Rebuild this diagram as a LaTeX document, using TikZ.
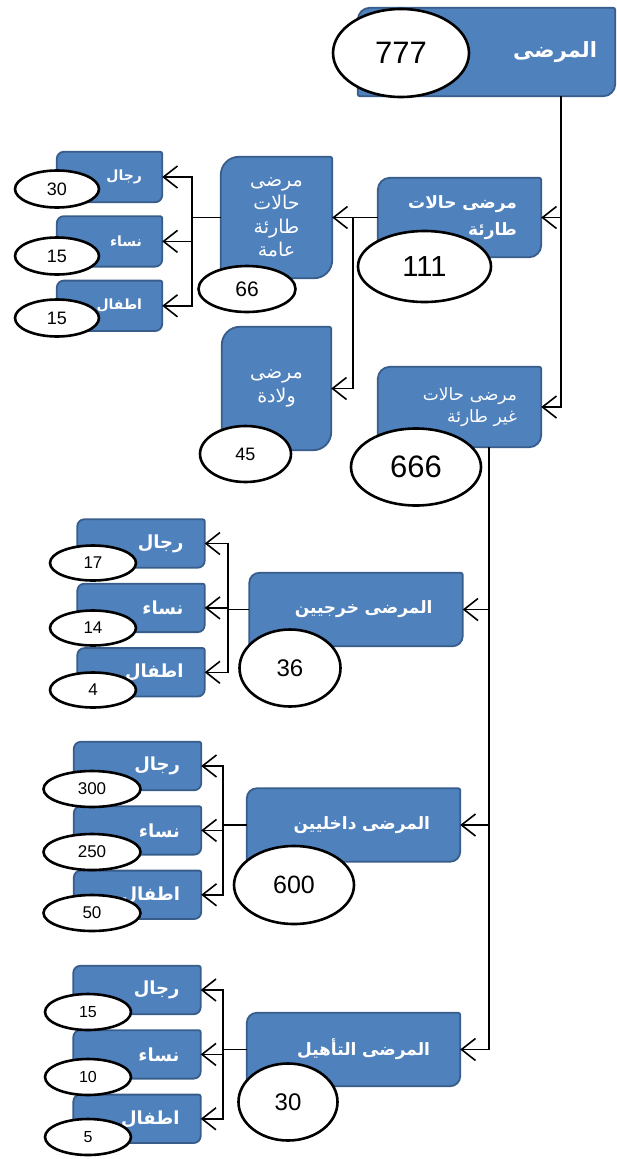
\documentclass[tikz,border=0pt]{standalone}
\usepackage{fontspec}
\setmainfont{Liberation Sans}
\newfontfamily\arabicfont[Script=Arabic]{DejaVu Sans}
\TeXXeTstate=1
\usepackage{tikz}
\usetikzlibrary{arrows.meta,positioning,shapes.geometric,backgrounds}
\definecolor{ptBlue}{HTML}{4F81BD}
\definecolor{ptEdge}{HTML}{385D8A}
\newcommand{\artx}[1]{\beginR #1\endR}
\newcommand{\fsz}[1]{\fontsize{#1}{#1}\selectfont}

\begin{document}
\begin{tikzpicture}[x=1pt, y=-1pt,
  box/.style={text=white, inner ysep=0pt, align=right},
  ttl/.style={box, font=\arabicfont\bfseries\fontsize{17}{27}\selectfont},
  plain/.style={box, align=center, font=\arabicfont\fontsize{19}{23.5}\selectfont},
  grp/.style={box, font=\arabicfont\bfseries\fsz{17}, minimum width=213pt, minimum height=73pt, text width=153pt, inner xsep=30pt},
  kid/.style={box, font=\arabicfont\bfseries\fsz{18}, minimum width=127pt, minimum height=48pt, text width=85pt, inner xsep=21pt},
  kidA/.style={box, font=\arabicfont\bfseries\fsz{14}, minimum width=105pt, minimum height=50pt, text width=65pt, inner xsep=20pt},
  num/.style={ellipse, draw, line width=2.6pt, fill=white, inner sep=0pt},
  boxline/.style={fill=ptBlue, draw=ptEdge, line width=1.8pt},
  link/.style={-{Straight Barb[length=14pt,width=22pt]}, line width=1.6pt},
  node distance=16pt,
]
  \useasboundingbox (0,0) rectangle (617,1159);

  % main boxes
  \node[box, font=\arabicfont\bfseries\fsz{21}, minimum height=88pt, text width=221pt, inner xsep=18pt] (root) at (486.5,52) {\artx{المرضى}};
  \node[ttl, minimum height=79pt, text width=115pt, inner xsep=24pt] (emg) at (459.5,217.5) {\artx{مرضى حالات}\\\artx{طارئة}};
  \node[plain, minimum height=121pt, text width=95pt, inner xsep=8pt] (gen) at (276.5,217.5) {\artx{مرضى}\\\artx{حالات}\\\artx{طارئة}\\\artx{عامة}};
  \node[plain, minimum height=123pt, text width=93pt, inner xsep=8pt] (birth) at (276.5,388.5) {\artx{مرضى}\\\artx{ولادة}};
  \node[box, font=\arabicfont\fontsize{17}{22}\selectfont, minimum height=80pt, text width=115pt, inner xsep=24pt] (nonemg) at (459.5,407) {\artx{مرضى حالات}\\\artx{غير طارئة}};
  \node[grp] (outp) at (356,609.5) {\artx{المرضى خرجيين}};
  \node[grp] (inp) at (353.5,825) {\artx{المرضى داخليين}};
  \node[grp] (rehab) at (353.5,1049.5) {\artx{المرضى التأهيل}};

  % small boxes
  \node[kidA] (men1) at (109.5,177) {\artx{رجال}};
  \node[kidA, below=14pt of men1] (women1) {\artx{نساء}};
  \node[kidA, below=14pt of women1] (kids1) {\artx{اطفال}};
  \node[kid] (men2) at (141,543.5) {\artx{رجال}};
  \node[kid, below=of men2] (women2) {\artx{نساء}};
  \node[kid, below=of women2] (kids2) {\artx{اطفال}};
  \node[kid] (men3) at (137.5,766) {\artx{رجال}};
  \node[kid, below=of men3] (women3) {\artx{نساء}};
  \node[kid, below=of women3] (kids3) {\artx{اطفال}};
  \node[kid] (men4) at (137,990) {\artx{رجال}};
  \node[kid, below=of men4] (women4) {\artx{نساء}};
  \node[kid, below=of women4] (kids4) {\artx{اطفال}};

  \begin{scope}[on background layer]
    \foreach \b/\r in {root/12pt, emg/12pt, gen/18pt, birth/18pt, nonemg/12pt, outp/10pt, inp/10pt, rehab/10pt,
      men1/7pt, women1/7pt, kids1/7pt, men2/7pt, women2/7pt, kids2/7pt,
      men3/7pt, women3/7pt, kids3/7pt, men4/7pt, women4/7pt, kids4/7pt}
      \draw[boxline] (\b.west) [rounded corners=\r] -- (\b.north west) [rounded corners=2pt] -- (\b.north east) [rounded corners=\r] -- (\b.south east) [rounded corners=2pt] -- (\b.south west) [sharp corners] -- cycle;
  \end{scope}

  % connectors
  \coordinate (trunkA) at (561,0);
  \coordinate (trunkB) at (489,0);
  \coordinate (splitB) at (353,0);
  \coordinate (j1) at (192,0);
  \coordinate (j2) at (228,0);
  \coordinate (j3) at (223,0);
  \coordinate (j4) at (223,0);
  \draw[link] (root.south -| trunkA) |- (emg.east);
  \draw[link] (root.south -| trunkA) |- (nonemg.east);
  \draw[link] (emg.west) -- (gen.east);
  \draw[link] (emg.west -| splitB) |- (birth.east);
  \foreach \g in {outp,inp,rehab}\draw[link] (nonemg.south -| trunkB) |- (\g.east);
  \foreach \p/\k in {gen/1,outp/2,inp/3,rehab/4}{
    \draw[line width=1.6pt] (\p.west) -- (\p.west -| j\k);
    \foreach \c in {men,women,kids}\draw[link] (\p.west -| j\k) |- (\c\k.east);
  }

  % counts
  \node[num, minimum width=136pt, minimum height=88pt, font=\fsz{31}] (v777) at (401,53) {777};
  \node[num, minimum width=133pt, minimum height=71pt, font=\fsz{29}] (v111) at (424.5,266.5) {111};
  \node[num, minimum width=97pt, minimum height=46pt, font=\fsz{21}] (v66) at (247,289) {66};
  \node[num, minimum width=91pt, minimum height=56pt, font=\fsz{18}] (v45) at (245.5,454) {45};
  \node[num, minimum width=130pt, minimum height=77pt, font=\fsz{31}] (v666) at (416,467) {666};
  \node[num, minimum width=101pt, minimum height=77pt, font=\fsz{24}] (v36) at (290,668) {36};
  \node[num, minimum width=120pt, minimum height=78pt, font=\fsz{25}] (v600) at (294,885) {600};
  \node[num, minimum width=99pt, minimum height=77pt, font=\fsz{24}] (v30) at (288,1102) {30};
  \foreach \n/\v/\x/\y in {vm1/30/57/189, vw1/15/57/256, vk1/15/57/318}
    \node[num, minimum width=84pt, minimum height=37pt, font=\fsz{18}] (\n) at (\x,\y) {\v};
  \foreach \n/\v/\x/\y in {vm2/17/93/563, vw2/14/93/628, vk2/4/93/690}
    \node[num, minimum width=86pt, minimum height=35pt, font=\fsz{17}] (\n) at (\x,\y) {\v};
  \foreach \n/\v/\x/\y in {vm3/300/92/789, vw3/250/92/852, vk3/50/92/913}
    \node[num, minimum width=97pt, minimum height=36pt, font=\fsz{17}] (\n) at (\x,\y) {\v};
  \foreach \n/\v/\x/\y in {vm4/15/88/1012, vw4/10/88/1077, vk4/5/88/1137}
    \node[num, minimum width=86pt, minimum height=36pt, font=\fsz{16}] (\n) at (\x,\y) {\v};
\end{tikzpicture}
\end{document}
